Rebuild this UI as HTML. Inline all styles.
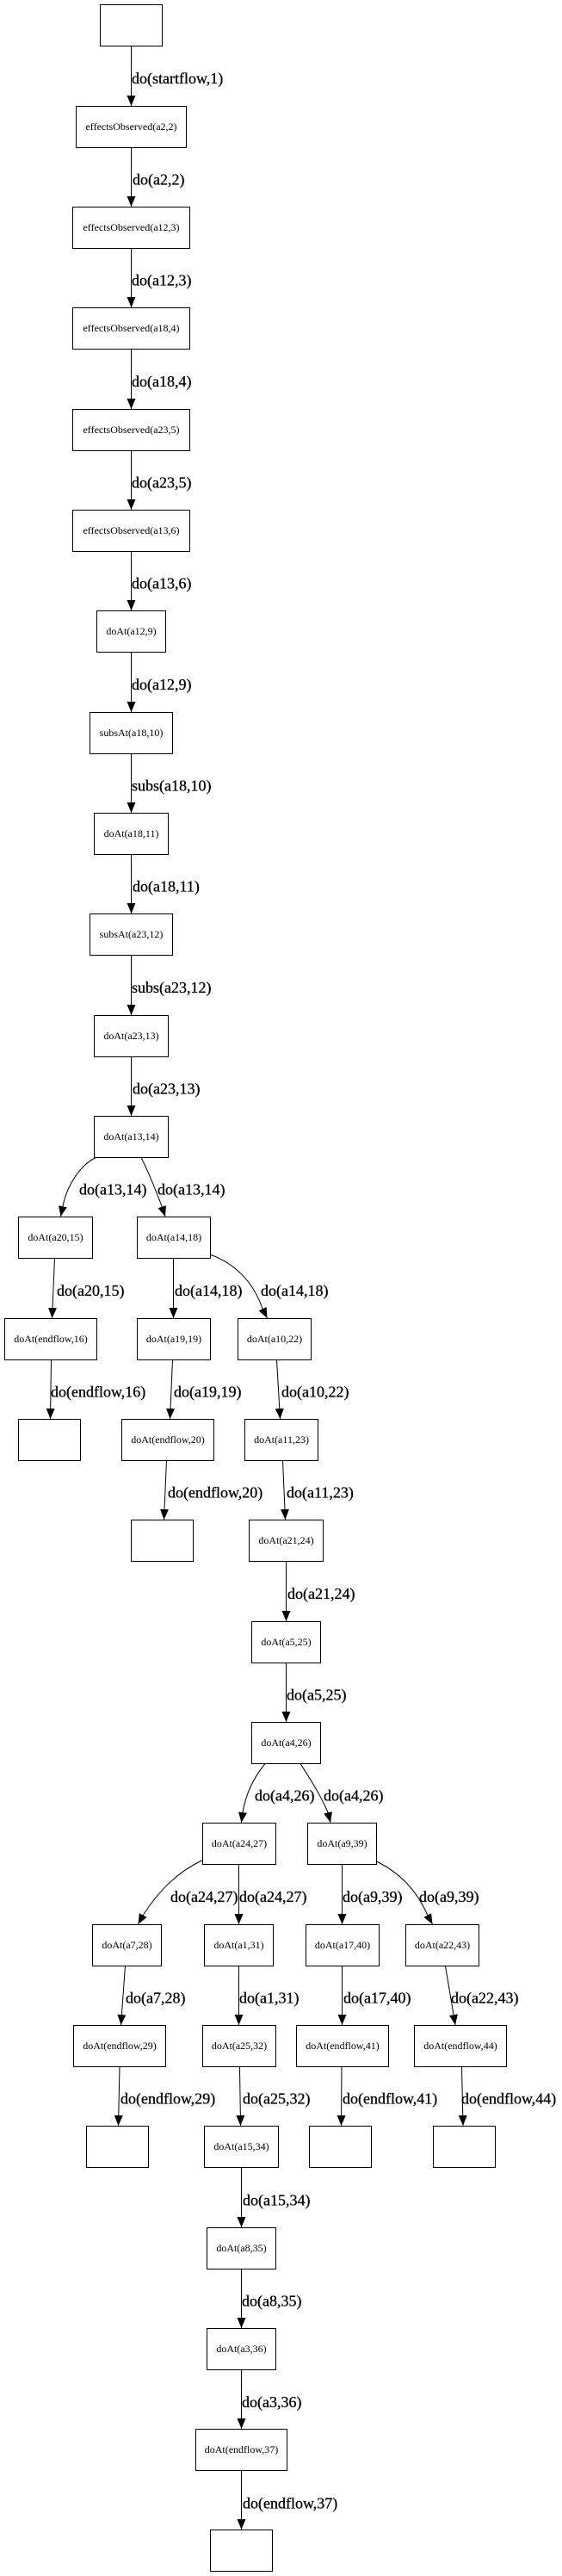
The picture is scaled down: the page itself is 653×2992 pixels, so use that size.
<!DOCTYPE html>
<html>
<head>
<meta charset="utf-8">
<style>
html,body{margin:0;padding:0;background:#fff;}
svg{display:block;}
.n rect{fill:#fff;stroke:#000;stroke-width:1;}
.nl{font-family:"Liberation Serif","Times New Roman",serif;font-size:12px;text-anchor:middle;fill:#000;}
.el{font-family:"Liberation Serif","Times New Roman",serif;font-size:18px;fill:#000;stroke:#000;stroke-width:0.3;}
.e{fill:none;stroke:#000;stroke-width:1;marker-end:url(#ah);}
</style>
</head>
<body>
<svg width="653" height="2992" viewBox="0 0 653 2992" xmlns="http://www.w3.org/2000/svg">
<defs>
<marker id="ah" markerUnits="userSpaceOnUse" markerWidth="12" markerHeight="10" viewBox="0 0 12 10" refX="12" refY="5" orient="auto">
<path d="M0,0 L12,5 L0,10 z" fill="#000"/>
</marker>
</defs>

<g class="n">
<rect x="116.5" y="5.5" width="72" height="48"/>
<rect x="88.5" y="123.5" width="128" height="48"/>
<rect x="84.5" y="240.5" width="136" height="48"/>
<rect x="84.5" y="357.5" width="136" height="48"/>
<rect x="84.5" y="475.5" width="136" height="48"/>
<rect x="84.5" y="592.5" width="136" height="48"/>
<rect x="112.5" y="709.5" width="80" height="48"/>
<rect x="104.5" y="827.5" width="96" height="48"/>
<rect x="109.5" y="944.5" width="86" height="48"/>
<rect x="104.5" y="1061.5" width="96" height="48"/>
<rect x="109.5" y="1179.5" width="86" height="48"/>
<rect x="109.5" y="1296.5" width="86" height="48"/>
<rect x="21.5" y="1413.5" width="86" height="48"/>
<rect x="159.5" y="1413.5" width="85" height="48"/>
<rect x="5.5" y="1531.5" width="107" height="48"/>
<rect x="159.5" y="1531.5" width="85" height="48"/>
<rect x="276.5" y="1531.5" width="85" height="48"/>
<rect x="21.5" y="1648.5" width="72" height="48"/>
<rect x="141.5" y="1648.5" width="107" height="48"/>
<rect x="284.5" y="1648.5" width="85" height="48"/>
<rect x="152.5" y="1765.5" width="72" height="48"/>
<rect x="289.5" y="1765.5" width="86" height="48"/>
<rect x="292.5" y="1883.5" width="80" height="48"/>
<rect x="292.5" y="2000.5" width="80" height="48"/>
<rect x="235.5" y="2117.5" width="85" height="48"/>
<rect x="357.5" y="2117.5" width="80" height="48"/>
<rect x="107.5" y="2235.5" width="80" height="48"/>
<rect x="237.5" y="2235.5" width="80" height="48"/>
<rect x="355.5" y="2235.5" width="85" height="48"/>
<rect x="471.5" y="2235.5" width="85" height="48"/>
<rect x="85.5" y="2352.5" width="107" height="48"/>
<rect x="235.5" y="2352.5" width="85" height="48"/>
<rect x="344.5" y="2352.5" width="107" height="48"/>
<rect x="481.5" y="2352.5" width="107" height="48"/>
<rect x="100.5" y="2469.5" width="72" height="48"/>
<rect x="237.5" y="2469.5" width="86" height="48"/>
<rect x="359.5" y="2469.5" width="72" height="48"/>
<rect x="503.5" y="2469.5" width="72" height="48"/>
<rect x="240.5" y="2587.5" width="80" height="48"/>
<rect x="240.5" y="2704.5" width="80" height="48"/>
<rect x="227.5" y="2821.5" width="106" height="48"/>
<rect x="244.5" y="2938.5" width="72" height="48"/>
</g>

<g class="nl">
<text x="152.5" y="151">effectsObserved(a2,2)</text>
<text x="152.5" y="268">effectsObserved(a12,3)</text>
<text x="152.5" y="385">effectsObserved(a18,4)</text>
<text x="152.5" y="503">effectsObserved(a23,5)</text>
<text x="152.5" y="620">effectsObserved(a13,6)</text>
<text x="152.5" y="737">doAt(a12,9)</text>
<text x="152.5" y="855">subsAt(a18,10)</text>
<text x="152.5" y="972">doAt(a18,11)</text>
<text x="152.5" y="1089">subsAt(a23,12)</text>
<text x="152.5" y="1207">doAt(a23,13)</text>
<text x="152.5" y="1324">doAt(a13,14)</text>
<text x="64.5" y="1441">doAt(a20,15)</text>
<text x="202" y="1441">doAt(a14,18)</text>
<text x="59" y="1559">doAt(endflow,16)</text>
<text x="202" y="1559">doAt(a19,19)</text>
<text x="319" y="1559">doAt(a10,22)</text>
<text x="195" y="1676">doAt(endflow,20)</text>
<text x="327" y="1676">doAt(a11,23)</text>
<text x="332.5" y="1793">doAt(a21,24)</text>
<text x="332.5" y="1911">doAt(a5,25)</text>
<text x="332.5" y="2028">doAt(a4,26)</text>
<text x="278" y="2145">doAt(a24,27)</text>
<text x="397.5" y="2145">doAt(a9,39)</text>
<text x="147.5" y="2263">doAt(a7,28)</text>
<text x="277.5" y="2263">doAt(a1,31)</text>
<text x="398" y="2263">doAt(a17,40)</text>
<text x="514" y="2263">doAt(a22,43)</text>
<text x="139" y="2380">doAt(endflow,29)</text>
<text x="278" y="2380">doAt(a25,32)</text>
<text x="398" y="2380">doAt(endflow,41)</text>
<text x="535" y="2380">doAt(endflow,44)</text>
<text x="280.5" y="2497">doAt(a15,34)</text>
<text x="280.5" y="2615">doAt(a8,35)</text>
<text x="280.5" y="2732">doAt(a3,36)</text>
<text x="280.5" y="2849">doAt(endflow,37)</text>
</g>

<g>
<path class="e" d="M152.5,53.5 L152.5,123"/>
<path class="e" d="M152.5,171.5 L152.5,240"/>
<path class="e" d="M152.5,288.5 L152.5,357"/>
<path class="e" d="M152.5,405.5 L152.5,475"/>
<path class="e" d="M152.5,523.5 L152.5,592"/>
<path class="e" d="M152.5,640.5 L152.5,709"/>
<path class="e" d="M152.5,757.5 L152.5,827"/>
<path class="e" d="M152.5,875.5 L152.5,944"/>
<path class="e" d="M152.5,992.5 L152.5,1061"/>
<path class="e" d="M152.5,1109.5 L152.5,1179"/>
<path class="e" d="M152.5,1227.5 L152.5,1296"/>
<path class="e" d="M111.5,1344.5 C95,1352 78,1375 73,1401 L70.5,1413"/>
<path class="e" d="M164,1344.5 C172,1360 180,1380 188,1401 L192,1413"/>
<path class="e" d="M201.5,1461.5 L201.5,1531"/>
<path class="e" d="M245,1457.5 C272,1467 294,1488 305,1520 L310.5,1531"/>
<path class="e" d="M63.5,1461.5 L60.5,1531"/>
<path class="e" d="M59.5,1579.5 L58.5,1648"/>
<path class="e" d="M200.5,1579.5 L197.5,1648"/>
<path class="e" d="M321.5,1579.5 L325.5,1648"/>
<path class="e" d="M193.5,1696.5 L190.5,1765"/>
<path class="e" d="M328.5,1696.5 L331.5,1765"/>
<path class="e" d="M332.5,1813.5 L332.5,1883"/>
<path class="e" d="M332.5,1931.5 L332.5,2000"/>
<path class="e" d="M308,2048.5 C296,2063 286,2082 282,2105 L280.5,2117"/>
<path class="e" d="M349,2048.5 C359,2064 372,2084 381,2105 L384,2117"/>
<path class="e" d="M235.5,2160.5 C207,2174 185,2195 166,2225 L160.5,2235"/>
<path class="e" d="M277.5,2165.5 L277.5,2235"/>
<path class="e" d="M397.5,2165.5 L397.5,2235"/>
<path class="e" d="M437.5,2162 C458,2172 482,2190 497,2225 L502.5,2235"/>
<path class="e" d="M145.5,2283.5 L140.5,2352"/>
<path class="e" d="M277.5,2283.5 L277.5,2352"/>
<path class="e" d="M397.5,2283.5 L397.5,2352"/>
<path class="e" d="M517.5,2283.5 L529,2352"/>
<path class="e" d="M139,2400.5 L137.5,2469"/>
<path class="e" d="M278.5,2400.5 L279.5,2469"/>
<path class="e" d="M397,2400.5 L396.5,2469"/>
<path class="e" d="M536.5,2400.5 L538,2469"/>
<path class="e" d="M280.5,2517.5 L280.5,2587"/>
<path class="e" d="M280.5,2635.5 L280.5,2704"/>
<path class="e" d="M280.5,2752.5 L280.5,2821"/>
<path class="e" d="M280.5,2869.5 L280.5,2938"/>
</g>

<g class="el">
<text x="153" y="97">do(startflow,1)</text>
<text x="154" y="214.5">do(a2,2)</text>
<text x="153" y="331.5">do(a12,3)</text>
<text x="153" y="449">do(a18,4)</text>
<text x="153" y="566.5">do(a23,5)</text>
<text x="153" y="683.5">do(a13,6)</text>
<text x="153" y="801">do(a12,9)</text>
<text x="153" y="918.5">subs(a18,10)</text>
<text x="154" y="1035.5">do(a18,11)</text>
<text x="153" y="1153">subs(a23,12)</text>
<text x="154" y="1270.5">do(a23,13)</text>
<text x="92" y="1387.5">do(a13,14)</text>
<text x="183" y="1387.5">do(a13,14)</text>
<text x="66" y="1505">do(a20,15)</text>
<text x="203" y="1505">do(a14,18)</text>
<text x="303" y="1505">do(a14,18)</text>
<text x="59" y="1622.5">do(endflow,16)</text>
<text x="202" y="1622.5">do(a19,19)</text>
<text x="327" y="1622.5">do(a10,22)</text>
<text x="195" y="1739.5">do(endflow,20)</text>
<text x="333" y="1739.5">do(a11,23)</text>
<text x="334" y="1857">do(a21,24)</text>
<text x="333" y="1974.5">do(a5,25)</text>
<text x="296" y="2091.5">do(a4,26)</text>
<text x="376" y="2091.5">do(a4,26)</text>
<text x="198" y="2209">do(a24,27)</text>
<text x="278" y="2209">do(a24,27)</text>
<text x="398" y="2209">do(a9,39)</text>
<text x="487" y="2209">do(a9,39)</text>
<text x="146" y="2326.5">do(a7,28)</text>
<text x="278" y="2326.5">do(a1,31)</text>
<text x="399" y="2326.5">do(a17,40)</text>
<text x="524" y="2326.5">do(a22,43)</text>
<text x="140" y="2443.5">do(endflow,29)</text>
<text x="282" y="2443.5">do(a25,32)</text>
<text x="398" y="2443.5">do(endflow,41)</text>
<text x="536" y="2443.5">do(endflow,44)</text>
<text x="282" y="2561.5">do(a15,34)</text>
<text x="281" y="2678.5">do(a8,35)</text>
<text x="281" y="2796">do(a3,36)</text>
<text x="282" y="2913.5">do(endflow,37)</text>
</g>
</svg>
</body>
</html>
